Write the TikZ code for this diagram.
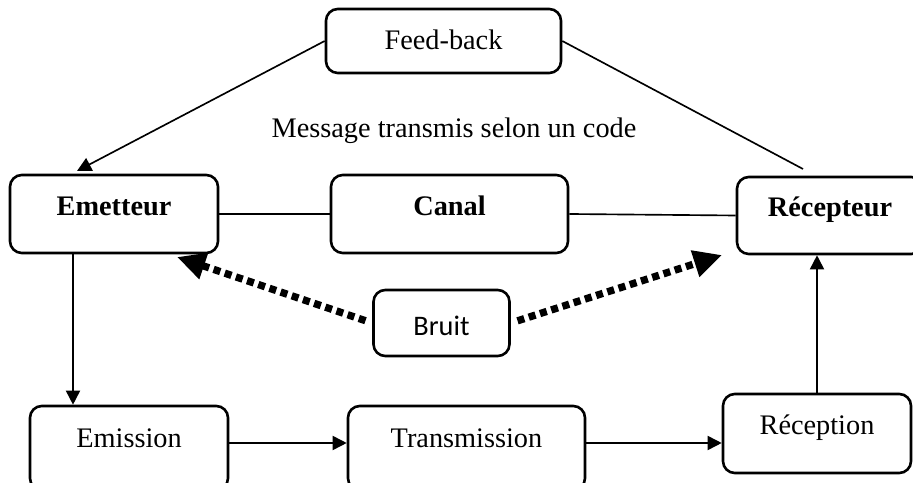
\documentclass[tikz,border=0pt]{standalone}
\usepackage{fontspec}
\setmainfont{Liberation Serif}
\newfontfamily\calibri{Carlito}
\usetikzlibrary{arrows.meta}

\newcommand{\pix}{0.424pt}

\tikzset{
	boite/.style={draw, rounded corners=5pt, line width=1.1pt, inner sep=1pt,
		text height=8pt, text depth=6.8pt},
	lien/.style={line width=0.7pt},
	fleche/.style={lien, -{Triangle[length=6pt,width=6pt]}},
	bruitfleche/.style={line width=3.1pt, dash pattern=on 3pt off 2pt,
		-{Triangle[length=12pt,width=11pt]}, shorten <=3pt}
}

\begin{document}
\begin{tikzpicture}[x=\pix, y=-\pix, every node/.style={font=\fontsize{12}{14}\selectfont}]
\useasboundingbox (0,0) rectangle (913,483);

	%top
	\node[boite, minimum width=235*\pix, minimum height=64*\pix, text depth=0.8pt] (feed) at (443.5,41) {Feed-back};
	\node (message) at (454,131) {Message transmis selon un code};
	
	%middle row
	\node[boite, minimum width=208*\pix, minimum height=78*\pix, font=\fontsize{12}{14}\selectfont\bfseries] (emet) at (114,214) {Emetteur};
	\node[boite, minimum width=237*\pix, minimum height=78*\pix, font=\fontsize{12}{14}\selectfont\bfseries] (canal) at (449.5,214) {Canal};
	\node[boite, minimum width=186*\pix, minimum height=77*\pix, font=\fontsize{12}{14}\selectfont\bfseries] (recep) at (830,215.5) {Récepteur};
	\node[boite, minimum width=136*\pix, minimum height=66*\pix, text height=10.4pt, text depth=0pt, font=\fontsize{12}{14}\calibri] (bruit) at (441.5,323) {Bruit};
	
	%bottom row
	\node[boite, minimum width=198*\pix, minimum height=84*\pix, text depth=8.4pt] (emis) at (129,448) {Emission};
	\node[boite, minimum width=237*\pix, minimum height=84*\pix, text depth=8.4pt] (trans) at (466.5,448) {Transmission};
	\node[boite, minimum width=188*\pix, minimum height=79*\pix] (recpt) at (817,433.5) {Réception};
	
	%feed-back
	\coordinate (emetHaut) at (77,171);
	\coordinate (recepHaut) at (803,169);
	\draw[fleche] (feed.west) -- (emetHaut);
	\draw[lien] (feed.east) -- (recepHaut);
	
	%canal
	\draw[lien] (emet.east) -- (canal.west);
	\draw[lien] (canal.east) -- (recep.west);
	
	%bruit
	\coordinate (bruitG) at (177,257);
	\coordinate (bruitD) at (722,255);
	\draw[bruitfleche] (bruit.west) -- (bruitG);
	\draw[bruitfleche] (bruit.east) -- (bruitD);
	
	%chain
	\coordinate (descente) at (73,0);
	\draw[fleche] (emet.south -| descente) -- (emis.north -| descente);
	\draw[fleche] (emis.east |- 443,443) -- (trans.west |- 443,443);
	\draw[fleche] (trans.east |- 443,443) -- (recpt.west |- 443,443);
	\draw[fleche] (recpt.north) -- (recep.south -| recpt.north);
\end{tikzpicture}
\end{document}
